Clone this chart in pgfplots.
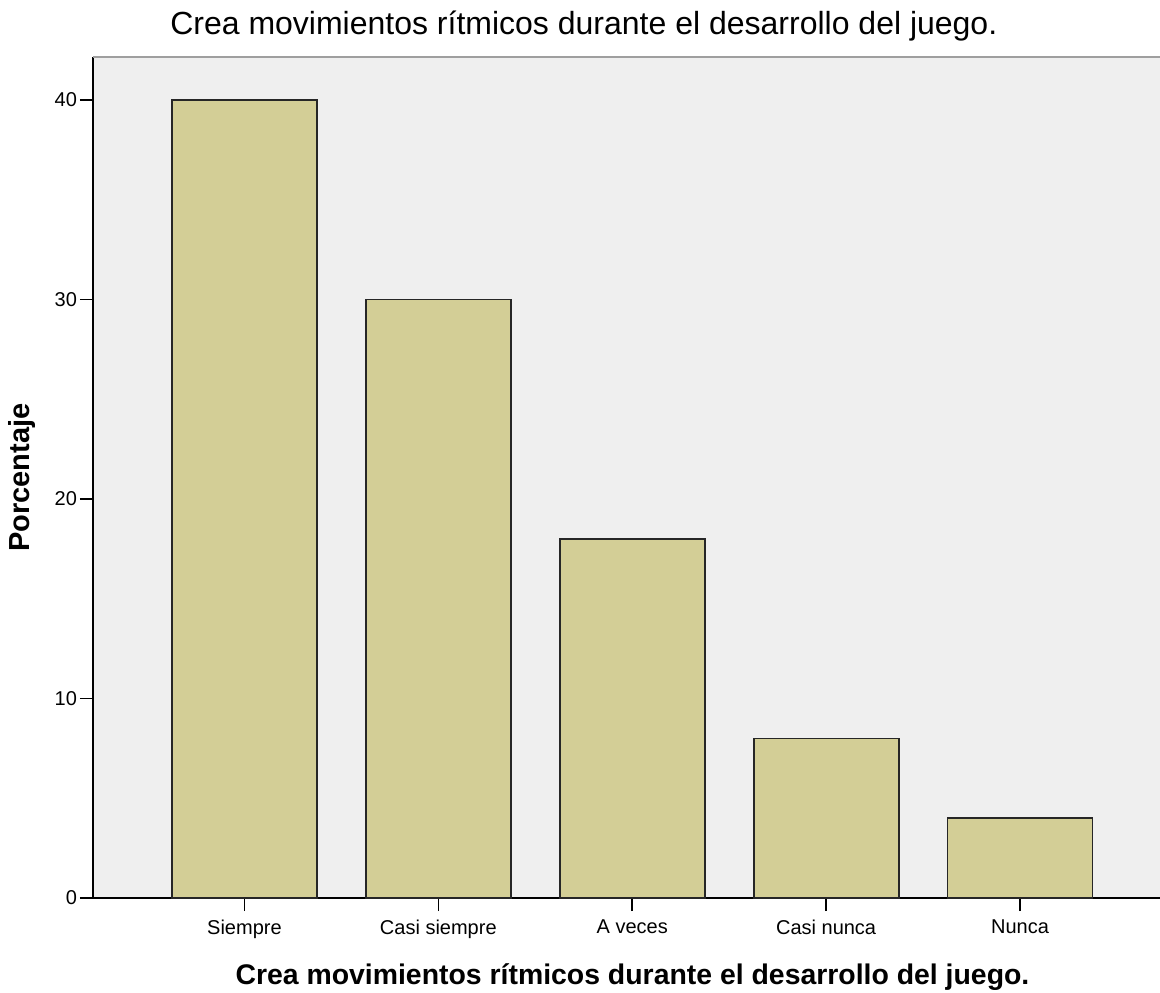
\documentclass[border=0pt]{standalone}
\usepackage{pgfplots}
\pgfplotsset{compat=1.18}
\usepackage{fontspec}
\setmainfont{Liberation Sans}
\definecolor{barfill}{RGB}{211,206,150}
\definecolor{bgc}{RGB}{239,239,239}
\begin{document}
\begin{tikzpicture}
\useasboundingbox (-46.5pt,-47pt) rectangle (533.5pt,449pt);
\begin{axis}[
  at={(0pt,0pt)}, anchor=south west,
  scale only axis, width=533.5pt, height=420.5pt,
  xmin=-0.781, xmax=4.722, ymin=0, ymax=42.16,
  axis lines*=left,
  axis line style={black, line width=0.75pt, -},
  axis background/.style={fill=bgc},
  xtick=data,
  xticklabels={Siempre, Casi siempre, A veces, Casi nunca, Nunca},
  ytick={0,10,20,30,40},
  tick style={black, line width=0.75pt},
  major tick length=6.5pt,
  tick align=outside,
  /pgf/number format/assume math mode=true,
  tick label style={font=\fontsize{10}{12}\selectfont},
  xticklabel style={yshift=-1pt},
  yticklabel style={xshift=2pt},
  title={Crea movimientos rítmicos durante el desarrollo del juego.},
  title style={at={(axis description cs:0.460,1.0119)}, anchor=base, font=\fontsize{16}{19}\selectfont},
  xlabel={Crea movimientos rítmicos durante el desarrollo del juego.},
  xlabel style={at={(axis description cs:0.5056,-0.1023)}, anchor=base, font=\bfseries\fontsize{14.2}{17}\selectfont},
  ylabel={Porcentaje},
  ylabel style={at={(axis description cs:-0.0665,0.5)}, anchor=center, font=\bfseries\fontsize{14.5}{17}\selectfont},
  clip=false,
]
\addplot[ybar, bar width=0.748, fill=barfill, draw=black!85, line width=0.9pt]
  coordinates {(0,40) (1,30) (2,18) (3,8) (4,4)};
\draw[gray!75, line width=1.2pt] (rel axis cs:0,1) -- (rel axis cs:1,1);
\end{axis}
\end{tikzpicture}
\end{document}
